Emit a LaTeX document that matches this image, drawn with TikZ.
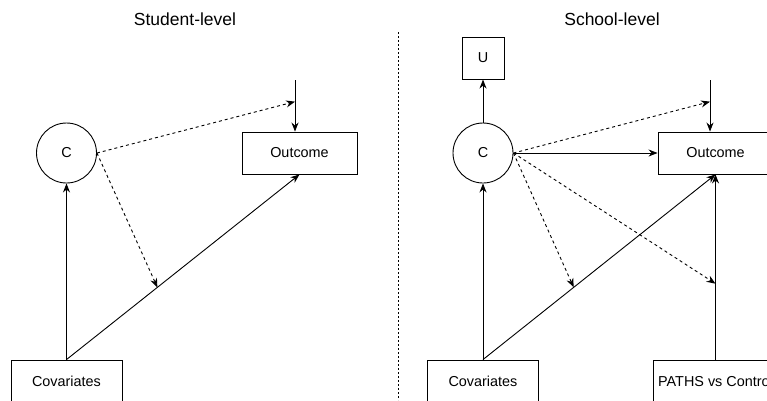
\documentclass[tikz,border=0pt]{standalone}
\usepackage{fontspec}
\setmainfont{Liberation Sans}
\usetikzlibrary{positioning,arrows.meta}

\begin{document}
\begin{tikzpicture}[
			x=1pt, y=-1pt,
			every node/.style={font=\fontsize{14.4}{17}\selectfont, inner sep=0pt},
			box/.style={draw, rectangle, minimum height=42pt, line width=0.9pt},
			latent/.style={draw, circle, minimum size=60pt, line width=0.9pt},
			heading/.style={font=\fontsize{17.5}{21}\selectfont},
			effect/.style={draw, line width=0.9pt, -{Stealth[length=9pt,width=7pt]}},
			moder/.style={effect, dash pattern=on 3pt off 3pt},
			divider/.style={draw, line width=0.9pt, dash pattern=on 2pt off 2pt}
			]
			\useasboundingbox (0,0) rectangle (767,400);
			\clip (0,0) rectangle (767,400);

			\node[heading] (lhead) at (185,19) {Student-level};
			\node[latent] (lc) at (66.5,153) {C};
			\node[box, minimum width=115pt] (lout) at (299.5,153) {Outcome};
			\node[box, minimum width=111pt] (lcov) at (66.5,381) {Covariates};
			\coordinate (ltop) at (295,80);

			\draw[effect] (lcov) -- (lc);
			\draw[effect] (lcov.north) -- coordinate[pos=0.39] (lmid) (lout.south);
			\draw[effect] (ltop) -- coordinate[pos=0.42] (lhit) (ltop |- lout.north);
			\draw[moder] (lc.east) -- (lhit);
			\draw[moder] (lc.east) -- (lmid);

			\coordinate (dtop) at (398,32);
			\coordinate (dbot) at (398,400);
			\draw[divider] (dtop) -- (dbot);

			\node[heading] (rhead) at (612,19) {School-level};
			\node[latent] (rc) at (483,153) {C};
			\node[box, minimum width=42pt, above=43pt of rc] (ru) {U};
			\node[box, minimum width=115pt] (rout) at (715.5,153) {Outcome};
			\node[box, minimum width=111pt] (rcov) at (483,381) {Covariates};
			\node[box, minimum width=125pt] (rpaths) at (715.5,381) {PATHS vs Control};
			\coordinate (rtop) at (710,80);

			\draw[effect] (rc) -- (ru);
			\draw[effect] (rcov) -- (rc);
			\draw[effect] (rc) -- (rout);
			\draw[effect] (rcov.north) -- coordinate[pos=0.39] (rmid) (rout.south);
			\draw[effect] (rpaths) -- coordinate[pos=0.41] (rside) (rout);
			\draw[effect] (rtop) -- coordinate[pos=0.42] (rhit) (rtop |- rout.north);
			\draw[moder] (rc.east) -- (rhit);
			\draw[moder] (rc.east) -- (rmid);
			\draw[moder] (rc.east) -- (rside);
		\end{tikzpicture}
\end{document}
